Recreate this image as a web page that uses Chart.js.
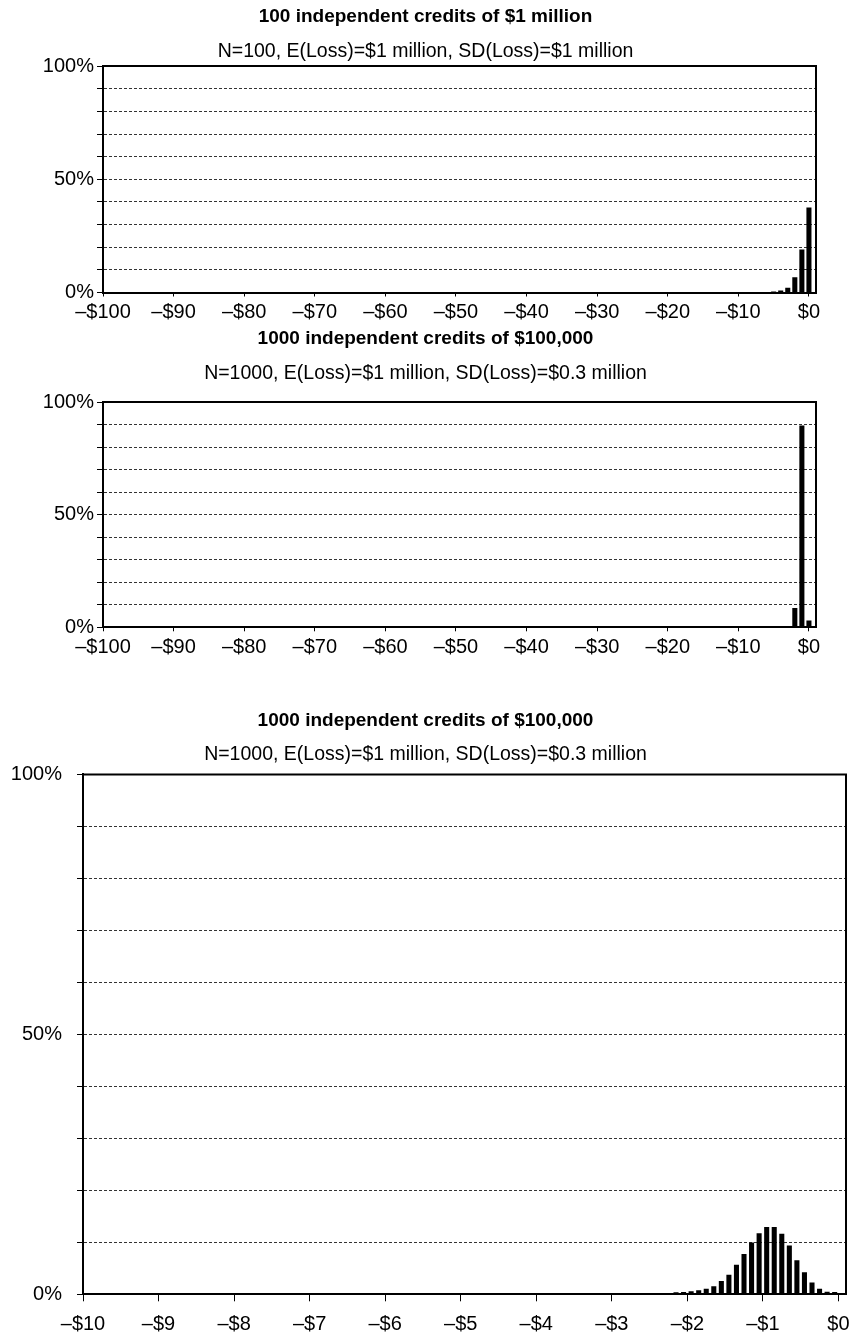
<!DOCTYPE html>
<html>
<head>
<meta charset="utf-8">
<script src="https://cdn.jsdelivr.net/npm/chart.js@4/dist/chart.umd.min.js"></script>
<style>
  html, body { margin: 0; padding: 0; background: #fff; }
  body { width: 851px; height: 1339px; position: relative; overflow: hidden; }
  canvas { position: absolute; left: 0; }
</style>
</head>
<body>
<canvas id="c1" width="851" height="330" style="top:0px"></canvas>
<canvas id="c2" width="851" height="343" style="top:322px"></canvas>
<canvas id="c3" width="851" height="639" style="top:700px"></canvas>
<script>
// Portfolio loss distributions, losses in $ millions (negative = loss), share in %
const loss100 = [0, -1, -2, -3, -4, -5];
const share100 = [37.4, 18.9, 6.6, 2.0, 0.7, 0.3];

const loss1000 = [0, -1, -2];
const share1000 = [2.9, 89.4, 8.4];

const loss1000Fine = [-2.15, -2.05, -1.95, -1.85, -1.75, -1.65, -1.55, -1.45, -1.35, -1.25, -1.15,
                      -1.05, -0.95, -0.85, -0.75, -0.65, -0.55, -0.45, -0.35, -0.25, -0.15, -0.05];
const share1000Fine = [0.35, 0.4, 0.5, 0.7, 1.0, 1.5, 2.5, 3.7, 5.6, 7.7, 9.9,
                       11.7, 12.9, 12.9, 11.6, 9.3, 6.5, 4.2, 2.2, 1.0, 0.45, 0.4];

// Axis ticks
const lossTicksWide = [-100, -90, -80, -70, -60, -50, -40, -30, -20, -10, 0];
const lossTicksNarrow = [-10, -9, -8, -7, -6, -5, -4, -3, -2, -1, 0];
const pctGrid = [0, 10, 20, 30, 40, 50, 60, 70, 80, 90, 100];
const pctLabels = [0, 50, 100];

const FONT = "'Liberation Sans', Arial, Helvetica, sans-serif";

function money(v) {
  return v === 0 ? '$0' : '\u2013$' + Math.abs(v);
}

// Draws the top and right edges of the plot frame
const frame = {
  id: 'frame',
  afterDatasetsDraw(chart) {
    const { ctx, chartArea: a } = chart;
    ctx.save();
    ctx.strokeStyle = '#000';
    ctx.lineWidth = 2;
    ctx.beginPath();
    ctx.moveTo(a.left, a.top);
    ctx.lineTo(a.right, a.top);
    ctx.lineTo(a.right, a.bottom);
    ctx.stroke();
    ctx.restore();
  }
};

function lossChart(id, o) {
  return new Chart(document.getElementById(id), {
    type: 'bar',
    data: {
      datasets: [{
        data: o.x.map((x, i) => ({ x: x, y: o.y[i] })),
        backgroundColor: '#000',
        borderWidth: 0,
        barThickness: o.bar
      }]
    },
    options: {
      responsive: false,
      animation: false,
      devicePixelRatio: 1,
      layout: { padding: 0 },
      plugins: {
        legend: { display: false },
        tooltip: { enabled: false },
        title: {
          display: true, text: o.title, color: '#000',
          font: { family: FONT, size: 19, weight: 'bold' },
          padding: { top: o.tTop, bottom: 0 }
        },
        subtitle: {
          display: true, text: o.sub, color: '#000',
          font: { family: FONT, size: 19.5 },
          padding: { top: o.sTop, bottom: o.sBot }
        }
      },
      scales: {
        x: {
          type: 'linear',
          offset: false,
          min: o.xmin, max: o.xmax,
          afterBuildTicks: s => { s.ticks = o.xt.map(v => ({ value: v })); },
          afterFit: s => { s.height = o.xh; s.paddingLeft = 0; s.paddingRight = 0; },
          ticks: {
            callback: v => money(v),
            color: '#000', font: { family: FONT, size: 20 },
            padding: o.xpad, maxRotation: 0, autoSkip: false
          },
          grid: {
            offset: false,
            drawOnChartArea: false, drawTicks: true,
            tickLength: o.xtick, tickColor: '#000', tickWidth: 1
          },
          border: { display: true, color: '#000', width: 2 }
        },
        y: {
          min: 0, max: 100,
          afterBuildTicks: s => { s.ticks = pctGrid.map(v => ({ value: v })); },
          afterFit: s => { s.width = o.yw; },
          ticks: {
            callback: v => pctLabels.includes(v) ? v + '%' : '',
            color: '#000', font: { family: FONT, size: 20 },
            padding: o.ypad, autoSkip: false
          },
          grid: {
            color: '#333', lineWidth: 1,
            tickLength: 6, tickColor: '#000', tickWidth: 1, tickBorderDash: []
          },
          border: { display: true, color: '#000', width: 2, dash: [3, 2] }
        },
        // empty right-hand strip that keeps the titles centred on the page
        yRight: {
          position: 'right',
          min: 0, max: 1,
          afterFit: s => { s.width = o.padRight; },
          ticks: { display: false },
          grid: { display: false, drawTicks: false },
          border: { display: false }
        }
      }
    },
    plugins: [frame]
  });
}

lossChart('c1', {
  x: loss100, y: share100,
  title: '100 independent credits of $1 million',
  sub: 'N=100, E(Loss)=$1 million, SD(Loss)=$1 million',
  xmin: -100, xmax: 1, xt: lossTicksWide,
  tTop: 5.6, sTop: 11.2, sBot: 3.1,
  xh: 37.5, xpad: 4, xtick: 4, yw: 103, ypad: 3, padRight: 35, bar: 4.4
});

lossChart('c2', {
  x: loss1000, y: share1000,
  title: '1000 independent credits of $100,000',
  sub: 'N=1000, E(Loss)=$1 million, SD(Loss)=$0.3 million',
  xmin: -100, xmax: 1, xt: lossTicksWide,
  tTop: 5.6, sTop: 11.2, sBot: 17,
  xh: 37.7, xpad: 4, xtick: 4, yw: 103, ypad: 3, padRight: 35, bar: 4.4
});

lossChart('c3', {
  x: loss1000Fine, y: share1000Fine,
  title: '1000 independent credits of $100,000',
  sub: 'N=1000, E(Loss)=$1 million, SD(Loss)=$0.3 million',
  xmin: -10, xmax: 0.1, xt: lossTicksNarrow,
  tTop: 9.6, sTop: 10.2, sBot: 8.4,
  xh: 44.7, xpad: 11, xtick: 7, yw: 83, ypad: 15, padRight: 5, bar: 4.4
});
</script>
</body>
</html>
